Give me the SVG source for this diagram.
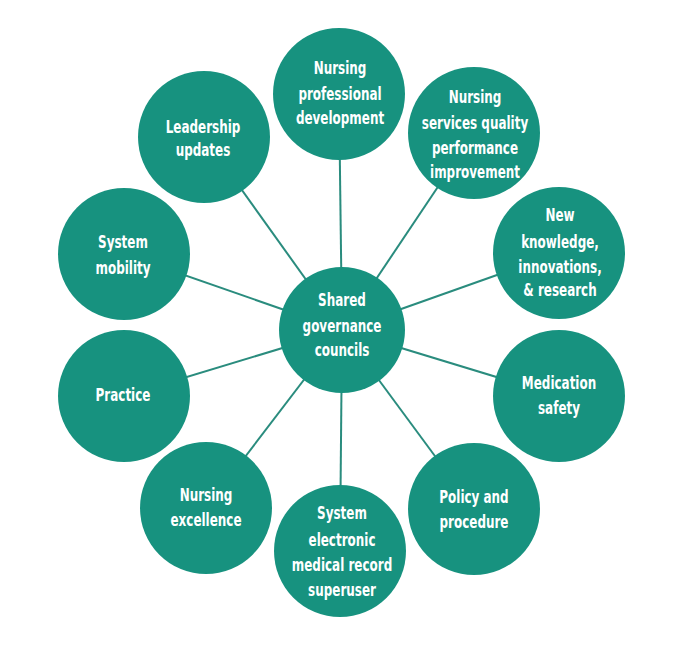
<svg xmlns="http://www.w3.org/2000/svg" width="689" height="655" viewBox="0 0 689 655">
<style>
.n{fill:#17927f}
.c line{stroke:#2a8c7e;stroke-width:2}
text{font-family:"DejaVu Sans Condensed","DejaVu Sans",sans-serif;font-stretch:condensed;font-weight:bold;font-size:17.5px;fill:#ffffff;text-anchor:middle}
</style>
<rect width="689" height="655" fill="#ffffff"/>
<g class="c" id="connectors">
<line x1="342" y1="330" x2="339" y2="94"/>
<line x1="342" y1="330" x2="474" y2="133"/>
<line x1="342" y1="330" x2="559" y2="253"/>
<line x1="342" y1="330" x2="559" y2="396"/>
<line x1="342" y1="330" x2="474" y2="509"/>
<line x1="342" y1="330" x2="340" y2="551"/>
<line x1="342" y1="330" x2="206" y2="508"/>
<line x1="342" y1="330" x2="124" y2="396"/>
<line x1="342" y1="330" x2="124" y2="254"/>
<line x1="342" y1="330" x2="204" y2="137"/>
</g>
<g id="center"><circle class="n" cx="342" cy="330" r="63"/>
<g transform="translate(342 0) scale(0.76 1)"><text x="0" y="306">Shared</text><text x="0" y="332">governance</text><text x="0" y="356">councils</text></g></g>
<g id="professional"><circle class="n" cx="339" cy="94" r="66"/>
<g transform="translate(340 0) scale(0.76 1)"><text x="0" y="74">Nursing</text><text x="0" y="100">professional</text><text x="0" y="124">development</text></g></g>
<g id="quality"><circle class="n" cx="474" cy="133" r="66"/>
<g transform="translate(475 0) scale(0.76 1)"><text x="0" y="103">Nursing</text><text x="0" y="129">services quality</text><text x="0" y="154">performance</text><text x="0" y="178">improvement</text></g></g>
<g id="knowledge"><circle class="n" cx="559" cy="253" r="66"/>
<g transform="translate(560 0) scale(0.76 1)"><text x="0" y="221">New</text><text x="0" y="248">knowledge,</text><text x="0" y="273">innovations,</text><text x="0" y="296">&amp; research</text></g></g>
<g id="medication"><circle class="n" cx="559" cy="396" r="66"/>
<g transform="translate(559 0) scale(0.76 1)"><text x="0" y="389">Medication</text><text x="0" y="414">safety</text></g></g>
<g id="policy"><circle class="n" cx="474" cy="509" r="66"/>
<g transform="translate(474 0) scale(0.76 1)"><text x="0" y="503">Policy and</text><text x="0" y="528">procedure</text></g></g>
<g id="emr"><circle class="n" cx="340" cy="551" r="66"/>
<g transform="translate(342 0) scale(0.76 1)"><text x="0" y="519">System</text><text x="0" y="546">electronic</text><text x="0" y="571">medical record</text><text x="0" y="596">superuser</text></g></g>
<g id="excellence"><circle class="n" cx="206" cy="508" r="66"/>
<g transform="translate(206 0) scale(0.76 1)"><text x="0" y="501">Nursing</text><text x="0" y="526">excellence</text></g></g>
<g id="practice"><circle class="n" cx="124" cy="396" r="66"/>
<g transform="translate(123 0) scale(0.76 1)"><text x="0" y="401">Practice</text></g></g>
<g id="mobility"><circle class="n" cx="124" cy="254" r="66"/>
<g transform="translate(123 0) scale(0.76 1)"><text x="0" y="248">System</text><text x="0" y="274">mobility</text></g></g>
<g id="leadership"><circle class="n" cx="204" cy="137" r="66"/>
<g transform="translate(203 0) scale(0.76 1)"><text x="0" y="133">Leadership</text><text x="0" y="156">updates</text></g></g>
</svg>
